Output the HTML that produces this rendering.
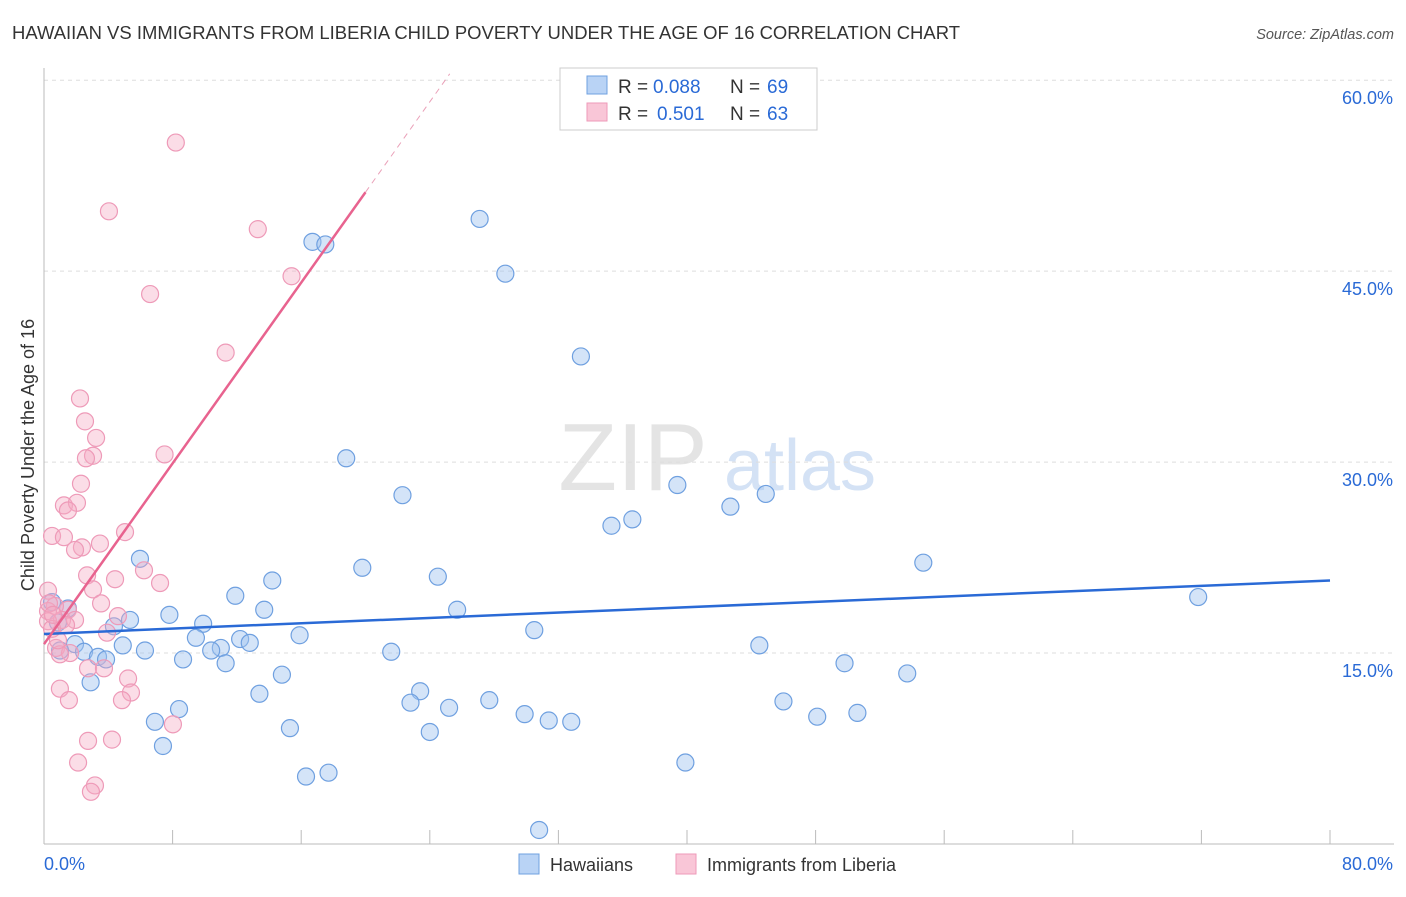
<!DOCTYPE html>
<html><head><meta charset="utf-8"><style>
body{margin:0;background:#fff;font-family:"Liberation Sans",sans-serif;}
svg text{font-family:"Liberation Sans",sans-serif;}
</style></head><body>
<svg id="chart" width="1406" height="892">
<text x="12" y="39" font-size="18.5" fill="#333" textLength="948" lengthAdjust="spacingAndGlyphs">HAWAIIAN VS IMMIGRANTS FROM LIBERIA CHILD POVERTY UNDER THE AGE OF 16 CORRELATION CHART</text>
<text x="1394" y="39" font-size="14.5" fill="#555" font-style="italic" text-anchor="end">Source: ZipAtlas.com</text>
<text x="633" y="490" font-size="96" fill="#e4e4e4" font-family="Liberation Serif" text-anchor="middle">ZIP</text>
<text x="800" y="490" font-size="72" fill="#d4e2f5" text-anchor="middle">atlas</text>
<text transform="translate(34,455) rotate(-90)" font-size="18" fill="#333" text-anchor="middle">Child Poverty Under the Age of 16</text>
<g id="grid"></g><g id="axes"></g><g id="trends"></g><g id="pts"></g><g id="trends2"></g>
<g>
<rect x="560" y="68" width="257" height="62" fill="#fff" stroke="#ccc"/>
<rect x="587" y="76" width="20" height="18" fill="#b9d3f5" stroke="#6fa0e0"/>
<rect x="587" y="103" width="20" height="18" fill="#f9c6d7" stroke="#ee9ab8"/>
<text x="618" y="93" font-size="19" fill="#333">R =</text>
<text x="653" y="93" font-size="19" fill="#2a6ad6">0.088</text>
<text x="730" y="93" font-size="19" fill="#333">N =</text>
<text x="767" y="93" font-size="19" fill="#2a6ad6">69</text>
<text x="618" y="120" font-size="19" fill="#333">R =</text>
<text x="657" y="120" font-size="19" fill="#2a6ad6">0.501</text>
<text x="730" y="120" font-size="19" fill="#333">N =</text>
<text x="767" y="120" font-size="19" fill="#2a6ad6">63</text>
</g>
<g>
<rect x="519" y="854" width="20" height="20" fill="#b9d3f5" stroke="#6fa0e0"/>
<text x="550" y="871" font-size="18" fill="#333">Hawaiians</text>
<rect x="676" y="854" width="20" height="20" fill="#f9c6d7" stroke="#ee9ab8"/>
<text x="707" y="871" font-size="18" fill="#333">Immigrants from Liberia</text>
</g>
</svg>
<script>
const yTicks=[15,30,45,60];
const yTickLabels=["15.0%","30.0%","45.0%","60.0%"];
const xEndLabels=["0.0%","80.0%"];
const blueTrend=[16.5,20.7];
const pinkTrend=[15.7,51.2];
const pinkTrendEndX=20;
const hawaiiansX=[27.1,16.7,17.5,28.7,33.4,18.8,22.3,39.4,36.6,35.3,42.7,44.9,54.7,5.97,19.8,24.5,14.2,11.9,13.7,7.8,9.9,5.35,4.35,25.7,30.5,71.8,15.9,12.2,12.8,9.45,11.0,6.28,4.9,0.87,0.5,1.49,1.93,2.49,3.36,3.86,8.65,10.4,11.3,44.5,49.8,53.7,14.8,21.6,23.4,22.8,25.2,27.7,29.9,31.4,32.8,48.1,50.6,46.0,13.4,8.4,6.9,7.4,15.3,24.0,16.3,17.7,39.9,30.8,2.9,1.0];
const hawaiiansY=[49.1,47.3,47.1,44.8,38.3,30.3,27.4,28.2,25.5,25.0,26.5,27.5,22.1,22.4,21.7,21.0,20.7,19.5,18.4,18.0,17.3,17.6,17.1,18.4,16.8,19.4,16.4,16.1,15.8,16.2,15.4,15.2,15.6,17.4,19.0,18.5,15.7,15.1,14.7,14.5,14.5,15.2,14.2,15.6,14.2,13.4,13.3,15.1,12.0,11.1,10.7,11.3,10.2,9.7,9.6,10.0,10.3,11.2,11.8,10.6,9.6,7.7,9.1,8.8,5.3,5.6,6.4,1.1,12.7,15.2];
const liberiaX=[8.2,4.04,13.3,15.4,6.6,11.3,2.24,2.55,3.24,3.05,2.61,7.5,2.3,1.24,2.05,1.49,0.5,1.24,5.04,3.48,2.36,1.93,6.22,7.22,4.42,2.68,0.25,3.05,3.55,1.49,0.68,0.25,1.12,1.93,4.6,3.92,0.75,1.62,0.99,2.74,3.73,5.23,0.99,5.41,4.85,1.55,8.02,2.74,4.23,2.12,3.17,2.92,0.25,0.5,0.87,1.37,0.31,0.56];
const liberiaY=[55.1,49.7,48.3,44.6,43.2,38.6,35.0,33.2,31.9,30.5,30.3,30.6,28.3,26.6,26.8,26.2,24.2,24.1,24.5,23.6,23.3,23.1,21.5,20.5,20.8,21.1,19.9,20.0,18.9,18.4,18.7,18.3,17.6,17.6,17.9,16.6,15.4,15.0,14.9,13.8,13.8,13.0,12.2,11.9,11.3,11.3,9.4,8.1,8.2,6.4,4.6,4.1,17.5,16.9,16.0,17.2,18.9,18.0];
const svg=document.getElementById('chart');const NS='http://www.w3.org/2000/svg';
const X=v=>44+v*16.075, Y=v=>844-v*12.73;
function mk(tag,attrs,parent){const e=document.createElementNS(NS,tag);for(const k in attrs)e.setAttribute(k,attrs[k]);parent.appendChild(e);return e;}
const grid=document.getElementById('grid'),axes=document.getElementById('axes'),tr=document.getElementById('trends2'),pts=document.getElementById('pts');
yTicks.forEach((t,i)=>{const l=mk('line',{x1:44,x2:1394,y1:Y(t),y2:Y(t),stroke:'#ddd','stroke-dasharray':'4,4'},grid);


const tx=mk('text',{x:1393,y:Y(t)+24,'font-size':18,fill:'#2a6ad6','text-anchor':'end'},axes);tx.textContent=yTickLabels[i];

});
const ax=mk('line',{x1:44,x2:1394,y1:844,y2:844,stroke:'#bbb'},axes);


const ay=mk('line',{x1:44,x2:44,y1:68,y2:844,stroke:'#bbb'},axes);


for(let i=1;i<=10;i++){const t=mk('line',{x1:X(i*8),x2:X(i*8),y1:830,y2:844,stroke:'#bbb'},axes);

}
const xl0=mk('text',{x:44,y:870,'font-size':18,fill:'#2a6ad6'},axes);xl0.textContent=xEndLabels[0];


const xl1=mk('text',{x:1393,y:870,'font-size':18,fill:'#2a6ad6','text-anchor':'end'},axes);xl1.textContent=xEndLabels[1];


function dot(x,y,fill,stroke,name){const c=mk('circle',{cx:X(x),cy:Y(y),r:8.5,fill:fill,stroke:stroke,'stroke-width':1.2},pts);

}
hawaiiansX.forEach((x,i)=>dot(x,hawaiiansY[i],'rgba(160,196,240,0.45)','#6fa0e0','hawaiian-point'));
liberiaX.forEach((x,i)=>dot(x,liberiaY[i],'rgba(245,170,195,0.4)','#ee9ab8','liberia-point'));
const bl=mk('line',{x1:X(0),y1:Y(blueTrend[0]),x2:X(80),y2:Y(blueTrend[1]),stroke:'#2a6ad6','stroke-width':2.5},tr);


const slope=(pinkTrend[1]-pinkTrend[0])/pinkTrendEndX;
const pl=mk('line',{x1:X(0),y1:Y(pinkTrend[0]),x2:X(pinkTrendEndX),y2:Y(pinkTrend[1]),stroke:'#e8638f','stroke-width':2.5},tr);


const xe=(60.5-pinkTrend[0])/slope;
const pd=mk('line',{x1:X(pinkTrendEndX),y1:Y(pinkTrend[1]),x2:X(xe),y2:Y(60.5),stroke:'#eaa0b8','stroke-width':1,'stroke-dasharray':'6,5'},tr);


</script>
</body></html>
